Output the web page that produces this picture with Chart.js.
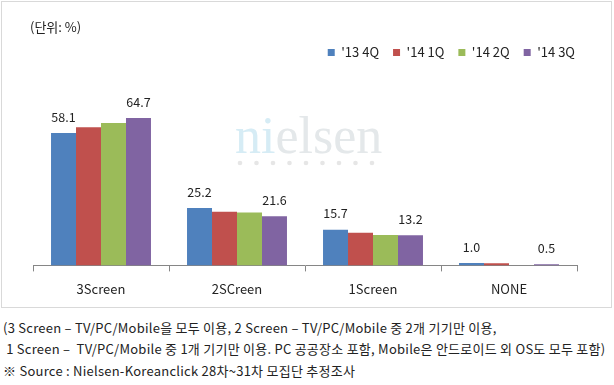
<!DOCTYPE html>
<html>
<head>
<meta charset="utf-8">
<script src="https://cdn.jsdelivr.net/npm/chart.js@4.4.0/dist/chart.umd.min.js"></script>
<style>
  body { margin: 0; background: #fff; width: 614px; height: 385px; overflow: hidden; position: relative;
         font-family: "Noto Sans CJK KR", "Noto Sans", sans-serif; color: #222; }
  #box { position: absolute; left: 1px; top: 1px; width: 609px; height: 305px; border: 1px solid #d9d9d9; }
  #wrap { position: absolute; left: 0; top: 0; width: 614px; height: 310px; }
  #unit { position: absolute; left: 30px; top: 17px; font-size: 13px; color: #222; }
  .note { position: absolute; left: 3px; font-size: 13px; letter-spacing: 0.25px; color: #222; white-space: pre; }
</style>
</head>
<body>
<div id="box"></div>
<div id="wrap"><canvas id="chart" width="614" height="310"></canvas></div>
<div id="unit">(단위: %)</div>
<div class="note" style="top:318px">(3 Screen – TV/PC/Mobile을 모두 이용, 2 Screen – TV/PC/Mobile 중 2개 기기만 이용,</div>
<div class="note" style="top:339px"> 1 Screen –  TV/PC/Mobile 중 1개 기기만 이용. PC 공공장소 포함, Mobile은 안드로이드 외 OS도 모두 포함)</div>
<div class="note" style="top:361px">※ Source : Nielsen-Koreanclick 28차~31차 모집단 추정조사</div>
<script>
// categories and series
const categories = ['3Screen', '2SCreen', '1Screen', 'NONE'];
const seriesNames = ["'13 4Q", "'14 1Q", "'14 2Q", "'14 3Q"];
const q13_4 = [58.1, 25.2, 15.7, 1.0];
const q14_1 = [60.7, 23.6, 14.3, 0.9];
const q14_2 = [62.5, 23.2, 13.4, 0.0];
const q14_3 = [64.7, 21.6, 13.2, 0.5];
const colors = ['#4f81bd', '#c0504d', '#9bbb59', '#8064a2'];
const labelled = [0, 3]; // only first and last series show values

const FONT = '"Noto Sans CJK KR", "Noto Sans", sans-serif';

// watermark behind the bars
const watermark = {
    id: 'watermark',
    beforeDatasetsDraw(chart) {
        const ctx = chart.ctx;
        ctx.save();
        ctx.font = '52px "Liberation Serif", serif';
        ctx.textBaseline = 'alphabetic';
        let x = 235;
        const word = 'nielsen';
        for (let i = 0; i < word.length; i++) {
            ctx.fillStyle = i < 2 ? '#d6ecf5' : '#e4e8ea';
            ctx.fillText(word[i], x, 153);
            x += ctx.measureText(word[i]).width;
        }
        ctx.fillStyle = '#e6e6e6';
        for (let i = 0; i < 9; i++) {
            ctx.beginPath();
            ctx.arc(240 + i * 16.5, 163, 2.3, 0, Math.PI * 2);
            ctx.fill();
        }
        ctx.restore();
    }
};

// value labels above bars
const valueLabels = {
    id: 'valueLabels',
    afterDatasetsDraw(chart) {
        const ctx = chart.ctx;
        ctx.save();
        ctx.font = '12.5px ' + FONT;
        ctx.fillStyle = '#222';
        ctx.textAlign = 'center';
        ctx.textBaseline = 'middle';
        labelled.forEach(di => {
            const meta = chart.getDatasetMeta(di);
            meta.data.forEach((bar, i) => {
                const v = chart.data.datasets[di].data[i];
                ctx.fillText(v.toFixed(1), bar.x, bar.y - 16);
            });
        });
        ctx.restore();
    }
};

// extra room under the legend, and push it a bit further right
const legendGap = {
    id: 'legendGap',
    beforeInit(chart) {
        const fit = chart.legend.fit;
        chart.legend.fit = function () {
            fit.bind(chart.legend)();
            this.height += 37;
        };
    },
    afterLayout(chart) {
        chart.legend.right += 12;
    }
};

new Chart(document.getElementById('chart').getContext('2d'), {
    type: 'bar',
    data: {
        labels: categories,
        datasets: [q13_4, q14_1, q14_2, q14_3].map((d, i) => ({
            label: seriesNames[i],
            data: d,
            backgroundColor: colors[i],
            borderWidth: 0,
            categoryPercentage: 0.735,
            barPercentage: 1.0
        }))
    },
    options: {
        responsive: false,
        animation: false,
        layout: { padding: { left: 33, right: 37, top: 32, bottom: 3 } },
        plugins: {
            tooltip: { enabled: false },
            legend: {
                position: 'top',
                align: 'end',
                labels: {
                    boxWidth: 7,
                    boxHeight: 7,
                    padding: 14,
                    color: '#222',
                    font: { size: 13, family: FONT }
                }
            }
        },
        scales: {
            x: {
                grid: { offset: true, drawOnChartArea: false, drawTicks: true, tickLength: 6, color: '#868686' },
                border: { color: '#868686' },
                ticks: { color: '#222', padding: 10, font: { size: 13, family: FONT } }
            },
            y: {
                display: false,
                min: 0,
                max: 70
            }
        }
    },
    plugins: [watermark, valueLabels, legendGap]
});
</script>
</body>
</html>
